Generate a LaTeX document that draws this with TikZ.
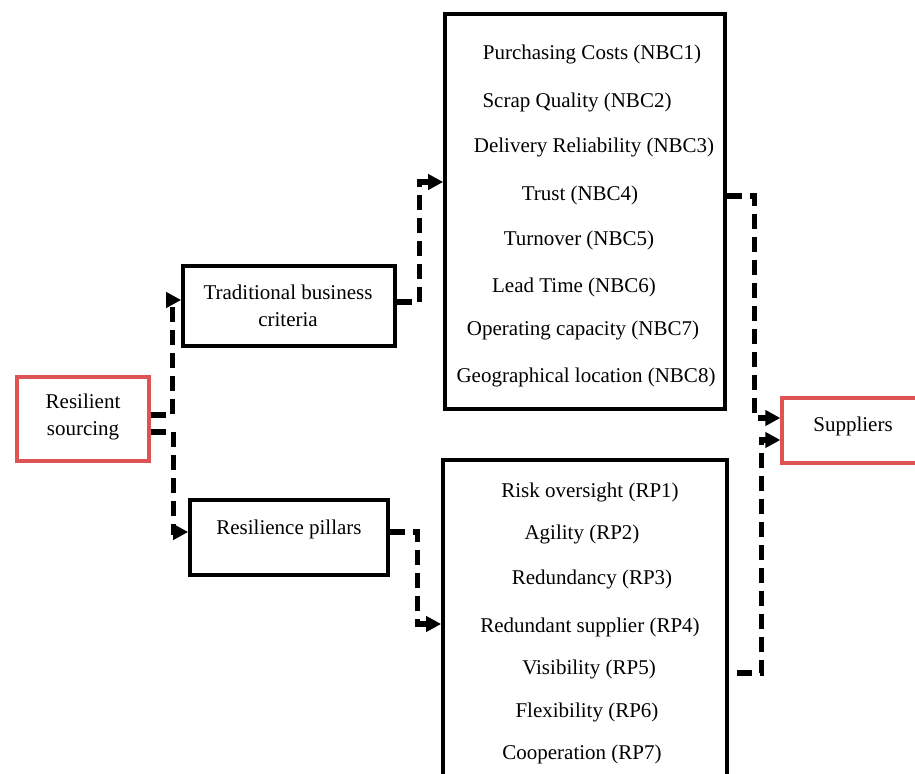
\documentclass[tikz,border=0pt]{standalone}
\usepackage{fontspec}
\setmainfont{Liberation Serif}
\usetikzlibrary{arrows.meta}
\definecolor{boxred}{RGB}{222,83,83}
\begin{document}
\begin{tikzpicture}[x=0.5pt,y=-0.5pt,
  every node/.style={font=\fontsize{10.5pt}{13.5pt}\selectfont},
  blackbox/.style={draw=black, line width=1.8pt, inner sep=0pt},
  redbox/.style={draw=boxred, line width=1.6pt, inner sep=0pt},
  lbl/.style={inner sep=0pt, align=center},
  conn/.style={line width=2.6pt, dash pattern=on 7.5pt off 4pt, -{Triangle[length=7.5pt,width=7.5pt]}}]
\useasboundingbox (0,0) rectangle (915,774);
\clip (0,0) rectangle (915,774);

% boxes
\node[redbox, minimum width=66pt, minimum height=42pt] (RS) at (83,419) {};
\node[blackbox, minimum width=106pt, minimum height=40pt] (TBC) at (289,306) {};
\node[blackbox, minimum width=99pt, minimum height=37.5pt] (RPL) at (289,537.5) {};
\node[blackbox, minimum width=140pt, minimum height=197.5pt] (NBC) at (585,211.5) {};
\node[blackbox, minimum width=142pt, minimum height=170pt] (RPB) at (585,630) {};
\node[redbox, minimum width=71pt, minimum height=32.5pt] (SUP) at (853,430.5) {};

% box labels
\node[lbl] (RSt) at (83,417) {Resilient\\sourcing};
\node[lbl] (TBCt) at (288,306) {Traditional business\\criteria};
\node[lbl] (RPLt) at (289,529) {Resilience pillars};
\node[lbl] (SUPt) at (853,426) {Suppliers};

% NBC items
\node[lbl] (n1) at (592,54) {Purchasing Costs (NBC1)};
\node[lbl] (n2) at (577,102) {Scrap Quality (NBC2)};
\node[lbl] (n3) at (594,147) {Delivery Reliability (NBC3)};
\node[lbl] (n4) at (580,195) {Trust (NBC4)};
\node[lbl] (n5) at (579,240) {Turnover (NBC5)};
\node[lbl] (n6) at (574,287) {Lead Time (NBC6)};
\node[lbl] (n7) at (583,330) {Operating capacity (NBC7)};
\node[lbl] (n8) at (586,377) {Geographical location (NBC8)};

% RP items
\node[lbl] (r1) at (590,492) {Risk oversight (RP1)};
\node[lbl] (r2) at (582,534) {Agility (RP2)};
\node[lbl] (r3) at (592,579) {Redundancy (RP3)};
\node[lbl] (r4) at (590,627) {Redundant supplier (RP4)};
\node[lbl] (r5) at (589,669) {Visibility (RP5)};
\node[lbl] (r6) at (587,712) {Flexibility (RP6)};
\node[lbl] (r7) at (582,754) {Cooperation (RP7)};

% connectors
\draw[conn] ([yshift=2pt]RS.east) -- ++(22,0) |- ([yshift=3pt]TBC.west);
\draw[conn] ([yshift=-6.5pt]RS.east) -- ++(23,0) |- ([yshift=2.75pt]RPL.west);
\draw[conn] ([yshift=2pt]TBC.east) -- ++(23,0) |- ([yshift=14.75pt]NBC.west);
\draw[conn] ([yshift=2.75pt]RPL.east) -- ++(28,0) |- ([yshift=3pt]RPB.west);
\draw[conn] ([yshift=7.75pt]NBC.east) -- ++(28,0) |- ([yshift=6.25pt]SUP.west);
\coordinate (c6) at ([xshift=4pt,yshift=-21.5pt]RPB.east);
\draw[conn] (c6) -- ++(25,0) |- ([yshift=-4.75pt]SUP.west);
\end{tikzpicture}
\end{document}
